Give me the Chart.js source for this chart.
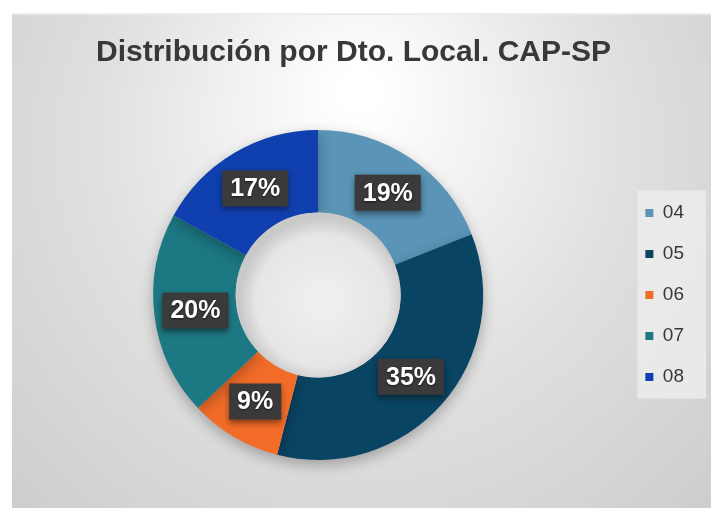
<!DOCTYPE html>
<html>
<head>
<meta charset="utf-8">
<script src="https://cdn.jsdelivr.net/npm/chart.js@4"></script>
<style>
  html, body { margin: 0; padding: 0; background: #fff; }
  #wrap { width: 711px; height: 508px; position: relative; }
</style>
</head>
<body>
<div id="wrap"><canvas id="grafico" width="711" height="508"></canvas></div>
<script>
// dati
var titolo = 'Distribución por Dto. Local. CAP-SP';
var categorie = ['04', '05', '06', '07', '08'];
var valori = [19, 35, 9, 20, 17];
var colori = ['#5a94b6', '#0a4463', '#f26c28', '#1c7883', '#1040b0'];

// sfondo del pannello con sfumatura radiale
var sfondo = {
    id: 'sfondo',
    beforeDraw: function (chart) {
        var ctx = chart.ctx;
        ctx.save();
        ctx.fillStyle = '#ffffff';
        ctx.fillRect(0, 0, chart.width, chart.height);
        var g = ctx.createRadialGradient(360, 90, 20, 360, 200, 560);
        g.addColorStop(0, '#ffffff');
        g.addColorStop(0.45, '#e0e0e0');
        g.addColorStop(1, '#c6c6c6');
        ctx.fillStyle = g;
        ctx.fillRect(12, 13, chart.width - 12, chart.height - 13);
        ctx.fillStyle = '#ececec';
        ctx.fillRect(12, 13, chart.width - 12, 2);

        // riquadro della legenda
        var boxes = chart.legend.legendHitBoxes;
        if (boxes && boxes.length) {
            var x0 = boxes[0].left - 8;
            var y0 = boxes[0].top - 13;
            var x1 = 706;
            var y1 = boxes[boxes.length - 1].top + boxes[boxes.length - 1].height + 12;
            ctx.fillStyle = 'rgba(236,236,236,0.85)';
            ctx.fillRect(x0, y0, x1 - x0, y1 - y0);
        }
        ctx.restore();
    }
};

// ombra sotto la ciambella
var ombra = {
    id: 'ombra',
    beforeDatasetsDraw: function (chart) {
        var ctx = chart.ctx;
        ctx.save();
        ctx.shadowColor = 'rgba(0,0,0,0.28)';
        ctx.shadowBlur = 14;
        ctx.shadowOffsetY = 5;
    },
    afterDatasetsDraw: function (chart) {
        var ctx = chart.ctx;
        ctx.restore();
        // buco centrale un po' ombreggiato
        var arco = chart.getDatasetMeta(0).data[0];
        var r = arco.innerRadius;
        ctx.save();
        var g = ctx.createRadialGradient(arco.x + 4, arco.y + 6, r * 0.2, arco.x + 4, arco.y + 6, r);
        g.addColorStop(0, '#eeeeee');
        g.addColorStop(0.75, '#e6e6e6');
        g.addColorStop(1, '#c9c9c9');
        ctx.beginPath();
        ctx.arc(arco.x, arco.y, r, 0, Math.PI * 2);
        ctx.fillStyle = g;
        ctx.fill();
        ctx.restore();
    }
};

// etichette percentuali con riquadro scuro
var etichette = {
    id: 'etichette',
    afterDatasetsDraw: function (chart) {
        var ctx = chart.ctx;
        var meta = chart.getDatasetMeta(0);
        var dati = chart.data.datasets[0].data;
        var totale = 0;
        for (var i = 0; i < dati.length; i++) totale += dati[i];
        ctx.save();
        ctx.font = 'bold 25px "Liberation Sans", Arial, sans-serif';
        ctx.textAlign = 'center';
        ctx.textBaseline = 'middle';
        for (var j = 0; j < meta.data.length; j++) {
            var p = meta.data[j].tooltipPosition();
            var testo = Math.round(dati[j] / totale * 100) + '%';
            var w = ctx.measureText(testo).width + 16;
            var h = 36;
            ctx.shadowColor = 'rgba(0,0,0,0.45)';
            ctx.shadowBlur = 6;
            ctx.shadowOffsetY = 3;
            ctx.fillStyle = '#3a3a3a';
            ctx.fillRect(p.x - w / 2, p.y - h / 2, w, h);
            ctx.shadowColor = 'rgba(0,0,0,0.6)';
            ctx.shadowBlur = 2;
            ctx.shadowOffsetY = 1;
            ctx.fillStyle = '#ffffff';
            ctx.fillText(testo, p.x, p.y + 1);
        }
        ctx.restore();
    }
};

var ctx = document.getElementById('grafico');
var chart = new Chart(ctx, {
    type: 'doughnut',
    data: {
        labels: categorie,
        datasets: [{
            data: valori,
            backgroundColor: colori,
            borderWidth: 0
        }]
    },
    options: {
        responsive: false,
        animation: false,
        cutout: '50%',
        layout: {
            padding: { left: 13, right: 17, top: 0, bottom: 48 }
        },
        plugins: {
            title: {
                display: true,
                text: titolo,
                color: '#383838',
                font: { family: '"Liberation Sans", Arial, sans-serif', size: 30, weight: 'bold', lineHeight: 1.2 },
                padding: { top: 35, bottom: 59 }
            },
            legend: {
                position: 'right',
                fullSize: false,
                labels: {
                    color: '#383838',
                    font: { family: '"Liberation Sans", Arial, sans-serif', size: 19 },
                    boxWidth: 8,
                    boxHeight: 8,
                    padding: 22
                }
            },
            tooltip: { enabled: false }
        }
    },
    plugins: [sfondo, ombra, etichette]
});
</script>
</body>
</html>
